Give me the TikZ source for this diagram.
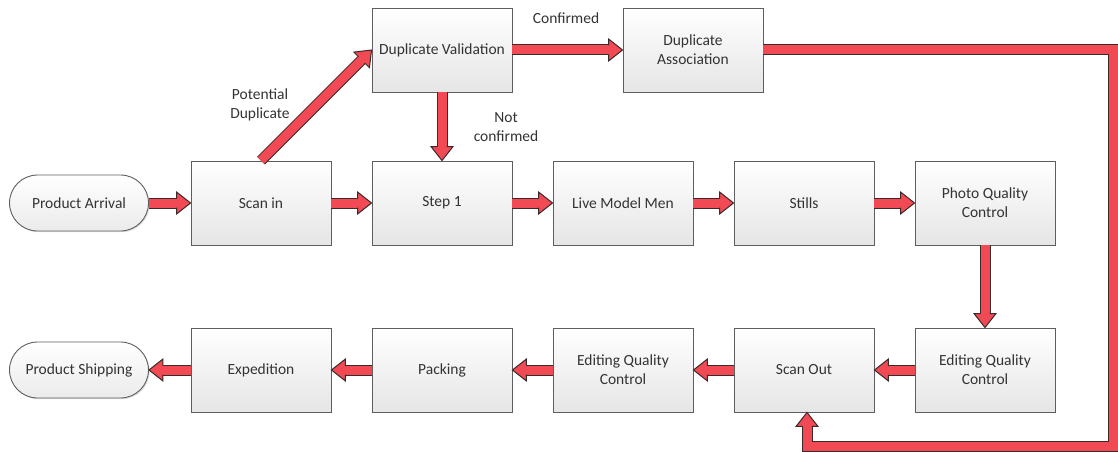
\documentclass[tikz,border=0pt]{standalone}
\usepackage{fontspec}
\setmainfont{Carlito}
\usetikzlibrary{calc,shadows}

\definecolor{arrowred}{HTML}{F24A55}
\definecolor{arrowline}{HTML}{3A2A2A}
\definecolor{boxline}{HTML}{5E5E5E}
\definecolor{txt}{HTML}{333333}

\tikzset{
  every node/.style={font=\fontsize{15.5}{19}\selectfont, text=txt},
  procbox/.style={draw=boxline, line width=0.9pt, top color=white, bottom color=black!10,
    minimum width=140pt, minimum height=84pt, inner sep=0pt, align=center,
    drop shadow={shadow xshift=1.2pt, shadow yshift=-1.2pt, opacity=0.25}},
  terminal/.style={draw=boxline, line width=0.9pt, top color=white, bottom color=black!8,
    rounded corners=28pt, minimum width=139pt, minimum height=56pt, inner sep=0pt, align=center,
    drop shadow={shadow xshift=1.2pt, shadow yshift=-1.2pt, opacity=0.25}},
  shaftdark/.style={line width=11pt, draw=arrowline, line join=miter},
  shaftred/.style={line width=9pt, draw=arrowred, line join=miter},
  headstyle/.style={fill=arrowred, draw=arrowline, line width=1pt, line join=miter},
  lbl/.style={align=center, inner sep=0pt},
}

% arrow head pointing at #2, coming from the direction of #1
\newcommand\headto[2]{%
  \coordinate (hb) at ($(#2)!14pt!(#1)$);
  \filldraw[headstyle] ($(hb)!4.5pt!90:(#2)$) -- ($(hb)!11pt!90:(#2)$) -- (#2)
     -- ($(hb)!11pt!-90:(#2)$) -- ($(hb)!4.5pt!-90:(#2)$);
}
% straight block arrow from #1 to #2
\newcommand\flowarrow[2]{%
  \coordinate (hb) at ($(#2)!14pt!(#1)$);
  \draw[shaftdark] (#1) -- (hb);
  \draw[shaftred] (#1) -- (hb);
  \headto{#1}{#2}
}

\begin{document}
\begin{tikzpicture}[x=1pt, y=-1pt]
\useasboundingbox (0,0) rectangle (1118,452);

% upper flow
\node[terminal] (pa) at (79,203) {Product Arrival};
\node[procbox] (si) at (261,203) {Scan in};
\node[procbox] (s1) at (442,203) {Step 1};
\node[procbox] (lm) at (623,203) {Live Model Men};
\node[procbox] (st) at (804,203) {Stills};
\node[procbox] (pq) at (985,203) {Photo Quality\\Control};

% duplicate branch
\node[procbox] (dv) at (442,50) {Duplicate Validation};
\node[procbox] (da) at (693,50) {Duplicate\\Association};

% lower flow
\node[procbox] (eq) at (985,370) {Editing Quality\\Control};
\node[procbox] (so) at (804,370) {Scan Out};
\node[procbox] (ec) at (623,370) {Editing Quality\\Control};
\node[procbox] (pk) at (442,370) {Packing};
\node[procbox] (ex) at (261,370) {Expedition};
\node[terminal] (ps) at (79,370) {Product Shipping};

% connector labels
\node[lbl] (lpot) at (260,105) {Potential\\Duplicate};
\node[lbl] (lcon) at (566,18) {Confirmed};
\node[lbl] (lnot) at (506,127) {Not\\confirmed};

% connectors
\flowarrow{pa.east}{si.west}
\flowarrow{si.east}{s1.west}
\flowarrow{s1.east}{lm.west}
\flowarrow{lm.east}{st.west}
\flowarrow{st.east}{pq.west}
\flowarrow{pq.south}{eq.north}
\flowarrow{eq.west}{so.east}
\flowarrow{so.west}{ec.east}
\flowarrow{ec.west}{pk.east}
\flowarrow{pk.west}{ex.east}
\flowarrow{ex.west}{ps.east}
\flowarrow{si.north}{dv.west}
\flowarrow{dv.east}{da.west}
\flowarrow{dv.south}{s1.north}

% return path from the association step to scan out
\coordinate (r1) at (1113,50);
\coordinate (r2) at (1113,446);
\coordinate (sotip) at ([xshift=3pt]so.south);
\coordinate (r3) at (sotip |- r2);
\coordinate (rb) at ($(sotip)!14pt!(r3)$);
\draw[shaftdark] (da.east) -- (r1) -- (r2) -- (r3) -- (rb);
\draw[shaftred] (da.east) -- (r1) -- (r2) -- (r3) -- (rb);
\headto{r3}{sotip}
\end{tikzpicture}
\end{document}
